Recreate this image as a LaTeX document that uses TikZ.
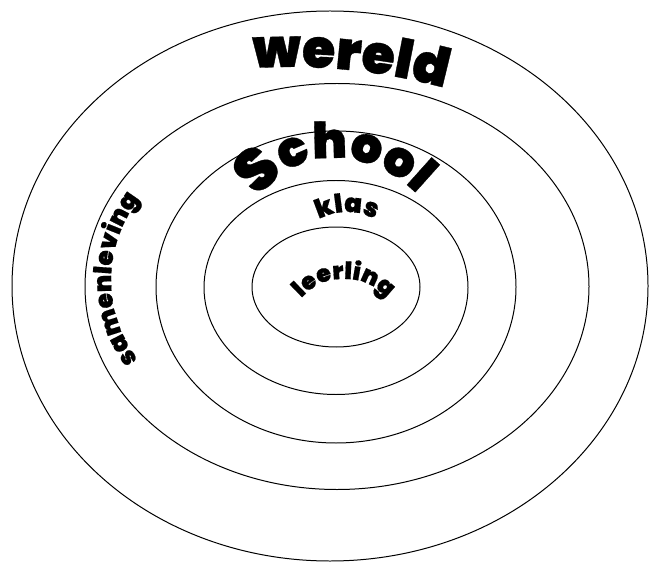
\documentclass[tikz,border=0pt]{standalone}
\usepackage{fontspec}
\newfontfamily\wordart{Poppins}[UprightFont=* Black, FakeBold=0.6]
\usetikzlibrary{decorations.text}

\begin{document}
\begin{tikzpicture}[x=1bp, y=-1bp,
    ring/.style={draw, line width=1pt},
    arctext/.style 2 args={decorate, decoration={text along path, text align=center,
        text={|\wordart\fontsize{#1}{#1}\selectfont|#2}}}]
  \useasboundingbox (0,0) rectangle (649,562);
  % rings, outside to inside
  \draw[ring] (330,286) ellipse [x radius=318, y radius=275];
  \draw[ring] (337,286.5) ellipse [x radius=252, y radius=203];
  \draw[ring] (336,287) ellipse [x radius=180, y radius=156];
  \draw[ring] (336,287.5) ellipse [x radius=132, y radius=107];
  \draw[ring] (336,287) ellipse [x radius=84, y radius=60];
  % curved labels
  \path[arctext={54}{wereld}] (189.3,75.8) arc[start angle=-100, end angle=-68.2, radius=580];
  \path[decorate, decoration={text along path, text align=center,
      text={|\wordart\fontsize{60}{60}\selectfont|S|\wordart\fontsize{50}{50}\selectfont|chool}}]
    (244,222) .. controls (266,178) and (298,158) .. (332,158)
    .. controls (366,158) and (408,174) .. (434,216);
  \path[arctext={26}{klas}] (303.3,232.4) arc[start angle=-140, end angle=-40, radius=57];
  \path[arctext={24}{leerling}]
    (290,312) .. controls (310,284) and (326,279) .. (344,279)
    .. controls (362,279) and (378,284) .. (398,312);
  \path[arctext={25}{samenleving}] (158,380.4) arc[start angle=130, end angle=231, radius=131];
\end{tikzpicture}
\end{document}
